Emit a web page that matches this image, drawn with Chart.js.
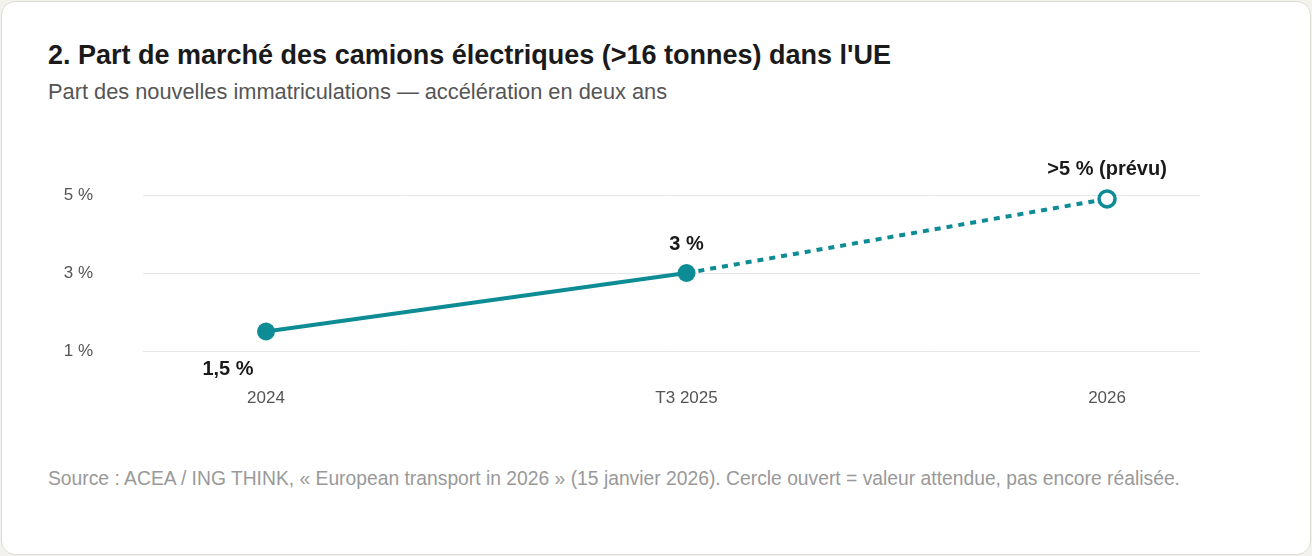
<!DOCTYPE html>
<html><head><meta charset="utf-8">
<script src="https://cdn.jsdelivr.net/npm/chart.js@4"></script>
<style>
html,body{margin:0;padding:0;background:#f3f2ee;font-family:"Liberation Sans",Arial,sans-serif;}
#card{position:absolute;left:1px;top:1px;width:1308px;height:552px;background:#fff;border:1px solid #dedbd3;border-radius:14px;}
#title{position:absolute;left:48px;top:39px;font-size:27px;font-weight:bold;color:#1a1a1a;white-space:nowrap;line-height:32px;}
#sub{position:absolute;left:48px;top:79px;font-size:21.8px;color:#555;white-space:nowrap;line-height:26px;}
#foot{position:absolute;left:48px;top:467px;font-size:19.3px;color:#999;white-space:nowrap;line-height:24px;}
#wrap{position:absolute;left:0;top:120px;width:1312px;height:300px;}
</style></head><body>
<div id="card"></div>
<div id="title">2. Part de marché des camions électriques (&gt;16 tonnes) dans l'UE</div>
<div id="sub">Part des nouvelles immatriculations — accélération en deux ans</div>
<div id="foot">Source : ACEA / ING THINK, « European transport in 2026 » (15 janvier 2026). Cercle ouvert = valeur attendue, pas encore réalisée.</div>
<div id="wrap"><canvas id="c"></canvas></div>
<script>
const categories = ['2024', 'T3 2025', '2026'];
const shareValues = [1.5, 3, 4.9];
const valueLabels = ['1,5 %', '3 %', '>5 % (prévu)'];
const yTickValues = [1, 3, 5];

const teal = '#0e8c95';
const labelPlugin = {
  id: 'valueLabels',
  afterDatasetsDraw(chart) {
    const ctx = chart.ctx;
    const meta = chart.getDatasetMeta(0);
    ctx.save();
    ctx.font = 'bold 20px "Liberation Sans", Arial, sans-serif';
    ctx.fillStyle = '#1a1a1a';
    ctx.textAlign = 'center';
    ctx.textBaseline = 'middle';
    meta.data.forEach((pt, i) => {
      let dx = 0, dy = -29;
      if (i === 0) { dx = -38; dy = 38; }
      ctx.fillText(valueLabels[i], pt.x + dx, pt.y + dy);
    });
    ctx.restore();
  }
};

new Chart(document.getElementById('c'), {
  type: 'line',
  data: {
    datasets: [{
      data: shareValues.map((v, i) => ({x: i, y: v})),
      borderColor: teal,
      borderWidth: 4,
      tension: 0,
      clip: false,
      pointRadius: [9, 9, 8],
      pointHoverRadius: [9, 9, 8],
      pointBackgroundColor: [teal, teal, '#ffffff'],
      pointBorderColor: teal,
      pointBorderWidth: [0, 0, 3.5],
      segment: {
        borderDash: c => c.p0DataIndex >= 1 ? [6, 6] : undefined
      }
    }]
  },
  options: {
    responsive: true,
    maintainAspectRatio: false,
    animation: false,
    layout: { padding: { left: 40, right: 112, top: 75, bottom: 0 } },
    plugins: { legend: { display: false }, tooltip: { enabled: false } },
    scales: {
      x: {
        type: 'linear',
        min: -0.2925,
        max: 2.221,
        grid: { display: false },
        border: { display: false },
        afterBuildTicks: s => { s.ticks = categories.map((_, i) => ({value: i})); },
        afterFit: s => { s.height = 69; },
        ticks: {
          padding: 29,
          color: '#555',
          font: { size: 17, family: '"Liberation Sans", Arial, sans-serif' },
          callback: v => categories[v]
        }
      },
      y: {
        min: 1,
        max: 5,
        afterBuildTicks: s => { s.ticks = yTickValues.map(v => ({value: v})); },
        afterFit: s => { s.width = 103; },
        grid: { color: '#e6e6e6', lineWidth: 1, drawTicks: false },
        border: { display: false },
        ticks: {
          padding: 50,
          color: '#555',
          font: { size: 17, family: '"Liberation Sans", Arial, sans-serif' },
          callback: v => v + ' %'
        }
      }
    }
  },
  plugins: [labelPlugin]
});
</script>
</body></html>
